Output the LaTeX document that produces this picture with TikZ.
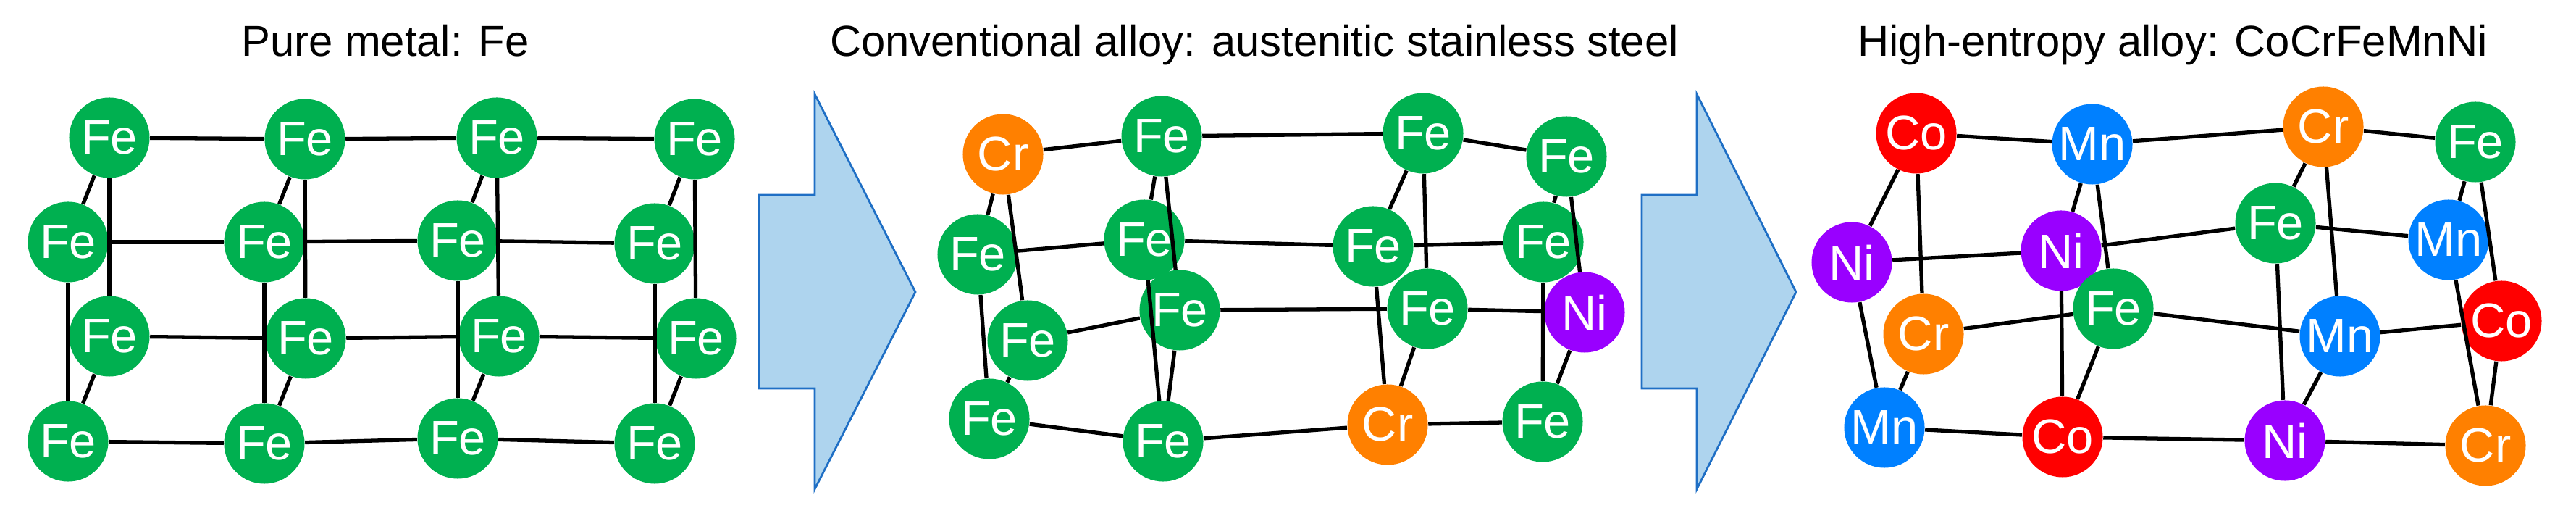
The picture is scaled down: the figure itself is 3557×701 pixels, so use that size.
\documentclass[tikz,border=0pt]{standalone}
\usepackage{fontspec}
\setmainfont{Liberation Sans}
\begin{document}
\definecolor{cFe}{HTML}{00B050}
\definecolor{cCr}{HTML}{FF8000}
\definecolor{cCo}{HTML}{FF0000}
\definecolor{cMn}{HTML}{0080FF}
\definecolor{cNi}{HTML}{9900FF}
\definecolor{arrfill}{HTML}{AED4EE}
\definecolor{arrline}{HTML}{1F6FC5}
\begin{tikzpicture}[x=0.01cm,y=-0.01cm,
  atom/.style={circle,fill=c#1,minimum size=1.11cm,inner sep=0pt,text=white,
    font=\fontsize{19}{19}\selectfont,node contents={#1}},
  title/.style={font=\fontsize{17}{17}\selectfont,anchor=base},
  bond/.style={line width=1.5pt,black},
  bigarrow/.style={fill=arrfill,draw=arrline,line width=0.8pt}]
\useasboundingbox (0,0) rectangle (3557,701);
% titles
\node[title] (t1) at (532,78) {Pure metal: Fe};
\node[title] (t2) at (1732,78) {Conventional alloy: austenitic stainless steel};
\node[title] (t3) at (3000,78) {High-entropy alloy: CoCrFeMnNi};
% arrows
\draw[bigarrow] (1048,269) -- (1125,269) -- (1125,130) -- (1264,403) -- (1125,675) -- (1125,536) -- (1048,536) -- cycle;
\draw[bigarrow] (2267,269) -- (2343,269) -- (2343,130) -- (2480,403) -- (2343,675) -- (2343,536) -- (2267,536) -- cycle;
% panel a
\node (a1r1) at (151,190) [atom=Fe]; \node (a2r1) at (421,192) [atom=Fe];
\node (a3r1) at (686,190) [atom=Fe]; \node (a4r1) at (959,192) [atom=Fe];
\node (a1r2) at (94,334) [atom=Fe];  \node (a2r2) at (365,334) [atom=Fe];
\node (a3r2) at (632,332) [atom=Fe]; \node (a4r2) at (904,336) [atom=Fe];
\node (a1r3) at (151,464) [atom=Fe]; \node (a2r3) at (422,467) [atom=Fe];
\node (a3r3) at (689,464) [atom=Fe]; \node (a4r3) at (961,467) [atom=Fe];
\node (a1r4) at (94,609) [atom=Fe];  \node (a2r4) at (365,612) [atom=Fe];
\node (a3r4) at (632,605) [atom=Fe]; \node (a4r4) at (904,612) [atom=Fe];
% panel b
\node (b1r1) at (1385,213) [atom=Cr]; \node (b2r1) at (1604,188) [atom=Fe];
\node (b3r1) at (1965,184) [atom=Fe]; \node (b4r1) at (2163,216) [atom=Fe];
\node (b1r2) at (1350,351) [atom=Fe]; \node (b2r2) at (1580,331) [atom=Fe];
\node (b3r2) at (1896,340) [atom=Fe]; \node (b4r2) at (2131,334) [atom=Fe];
\node (b1r3) at (1419,470) [atom=Fe]; \node (b2r3) at (1629,428) [atom=Fe];
\node (b3r3) at (1971,426) [atom=Fe]; \node (b4r3) at (2188,431) [atom=Ni];
\node (b1r4) at (1366,578) [atom=Fe]; \node (b2r4) at (1606,609) [atom=Fe];
\node (b3r4) at (1916,586) [atom=Cr]; \node (b4r4) at (2130,582) [atom=Fe];
% panel c
\node (c1r1) at (2646,184) [atom=Co]; \node (c2r1) at (2889,199) [atom=Mn];
\node (c3r1) at (3208,175) [atom=Cr]; \node (c4r1) at (3418,196) [atom=Fe];
\node (c1r2) at (2557,362) [atom=Ni]; \node (c2r2) at (2846,346) [atom=Ni];
\node (c3r2) at (3142,308) [atom=Fe]; \node (c4r2) at (3381,331) [atom=Mn];
\node (c1r3) at (2656,461) [atom=Cr]; \node (c2r3) at (2918,426) [atom=Fe];
\node (c3r3) at (3231,464) [atom=Mn]; \node (c4r3) at (3454,443) [atom=Co];
\node (c1r4) at (2602,590) [atom=Mn]; \node (c2r4) at (2848,603) [atom=Co];
\node (c3r4) at (3155,608) [atom=Ni]; \node (c4r4) at (3432,615) [atom=Cr];
% bonds
\foreach \p in {a,b,c}{
  \foreach \c in {1,2,3,4}{
    \draw[bond] (\p\c r1) -- (\p\c r3);
    \draw[bond] (\p\c r2) -- (\p\c r4);
    \draw[bond] (\p\c r1) -- (\p\c r2);
    \draw[bond] (\p\c r3) -- (\p\c r4);
  }
  \foreach \r in {1,2,3,4}{
    \foreach \c/\d in {1/2,2/3,3/4}{
      \draw[bond] (\p\c r\r) -- (\p\d r\r);
    }
  }
}
\end{tikzpicture}
\end{document}
